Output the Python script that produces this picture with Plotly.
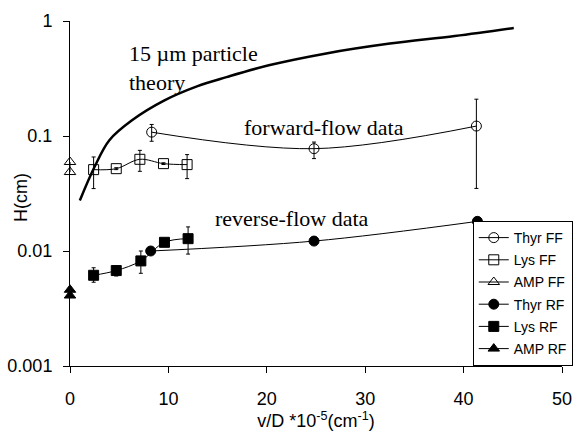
import plotly.graph_objects as go

# ---- data ----
theory_x = [1.0, 2.5, 4.0, 6.3, 9.6, 12.9, 15.9, 20.2, 25.9, 32.5, 39.1, 45.1]
theory_y = [0.0275, 0.054, 0.092, 0.137, 0.204, 0.27, 0.325, 0.412, 0.52, 0.636, 0.74, 0.87]

thyr_ff_x = [8.3, 24.8, 41.3]
thyr_ff_y = [0.108, 0.0776, 0.122]
thyr_ff_ep = [0.018, 0.011, 0.087]
thyr_ff_em = [0.018, 0.014, 0.087]

lys_ff_x = [2.4, 4.7, 7.1, 9.5, 11.9]
lys_ff_y = [0.051, 0.052, 0.0627, 0.0575, 0.0564]
lys_ff_ep = [0.0147, 0.001, 0.0123, 0.001, 0.0125]
lys_ff_em = [0.0161, 0.001, 0.0134, 0.001, 0.0138]

amp_ff_x = [0, 0]
amp_ff_y = [0.0594, 0.0486]

thyr_rf_x = [8.2, 24.8, 41.4]
thyr_rf_y = [0.0100, 0.0122, 0.0181]

lys_rf_x = [2.4, 4.7, 7.2, 9.6, 12.0]
lys_rf_y = [0.00615, 0.00676, 0.0082, 0.0119, 0.0128]
lys_rf_ep = [0.001, 0.0007, 0.0018, 0.0004, 0.0034]
lys_rf_em = [0.0008, 0.0007, 0.0018, 0.0004, 0.0034]

amp_rf_x = [0, 0]
amp_rf_y = [0.0046, 0.0041]

x_ticks = [0, 10, 20, 30, 40, 50]
y_ticks = [0.001, 0.01, 0.1, 1]
y_ticklabels = ["0.001", "0.01", "0.1", "1"]

BLACK = "black"
fig = go.Figure()

fig.add_trace(go.Scatter(x=theory_x, y=theory_y, mode="lines", line=dict(color=BLACK, width=2.5, shape="spline"),
                         showlegend=False, hoverinfo="skip"))


def err(ep, em):
    return dict(type="data", array=ep, arrayminus=em, symmetric=False, color=BLACK, thickness=1, width=2)


series = [
    ("Thyr FF", thyr_ff_x, thyr_ff_y, "circle-open", 10, err(thyr_ff_ep, thyr_ff_em)),
    ("Lys FF", lys_ff_x, lys_ff_y, "square-open", 10, err(lys_ff_ep, lys_ff_em)),
    ("AMP FF", amp_ff_x, amp_ff_y, "triangle-up-open", 10, None),
    ("Thyr RF", thyr_rf_x, thyr_rf_y, "circle", 10, None),
    ("Lys RF", lys_rf_x, lys_rf_y, "square", 10, err(lys_rf_ep, lys_rf_em)),
    ("AMP RF", amp_rf_x, amp_rf_y, "triangle-up", 10, None),
]

for i, (name, xs, ys, sym, sz, eb) in enumerate(series):
    kw = {}
    if eb is not None:
        kw["error_y"] = eb
    fig.add_trace(go.Scatter(
        x=xs, y=ys, name=name, mode="lines+markers", legendgroup=f"g{i}",
        line=dict(color=BLACK, width=1, shape="spline"),
        marker=dict(symbol=sym, size=sz, color=BLACK, line=dict(color=BLACK, width=1)),
        cliponaxis=False, **kw))

serif = "Liberation Serif, Times New Roman, serif"
fig.add_annotation(x=5.75, y=-0.407, xref="x", yref="y", text="15 \u00b5m particle<br>theory", showarrow=False,
                   xanchor="left", align="left", font=dict(family=serif, size=22, color=BLACK))
fig.add_annotation(x=25.85, y=-0.922, xref="x", yref="y", text="forward-flow data", showarrow=False,
                   font=dict(family=serif, size=22, color=BLACK))
fig.add_annotation(x=22.55, y=-1.718, xref="x", yref="y", text="reverse-flow data", showarrow=False,
                   font=dict(family=serif, size=22, color=BLACK))

sans = "Arial, Liberation Sans, Helvetica, sans-serif"
W, H = 585, 432
L, R, T, B = 70, 13, 21, 66
plot_w = W - L - R
fig.add_annotation(x=(20 - L) / plot_w, xref="paper", xanchor="center", y=0.49, yref="paper", yanchor="middle",
                   text="H(cm)", textangle=-90, showarrow=False, font=dict(family=sans, size=18, color=BLACK))
fig.update_layout(
    width=W, height=H,
    margin=dict(l=L, r=R, t=T, b=B),
    paper_bgcolor="white", plot_bgcolor="white",
    font=dict(family=sans, size=18, color=BLACK),
    legend=dict(x=(plot_w + 11) / plot_w, y=0, xanchor="right", yanchor="bottom", bgcolor="white",
                bordercolor=BLACK, borderwidth=1, font=dict(size=14, family=sans), traceorder="grouped",
                tracegroupgap=1, itemwidth=30),
    xaxis=dict(range=[0, 50], tickvals=x_ticks, showgrid=False, zeroline=False, showline=True,
               linecolor=BLACK, linewidth=1, ticks="outside", ticklen=6, tickcolor=BLACK,
               ticklabelstandoff=10, automargin=False,
               title=dict(text="v/D *10<sup>-5</sup>(cm<sup>-1</sup>)", font=dict(size=18), standoff=4)),
    yaxis=dict(type="log", range=[-3, 0], tickvals=y_ticks, ticktext=y_ticklabels, showgrid=False,
               zeroline=False, showline=True, linecolor=BLACK, linewidth=1, ticks="outside", ticklen=6,
               tickcolor=BLACK, ticklabelstandoff=7, automargin=False),
)

fig.write_html("out.html", config={"displayModeBar": False},
               post_script="document.body.style.margin='0';")
